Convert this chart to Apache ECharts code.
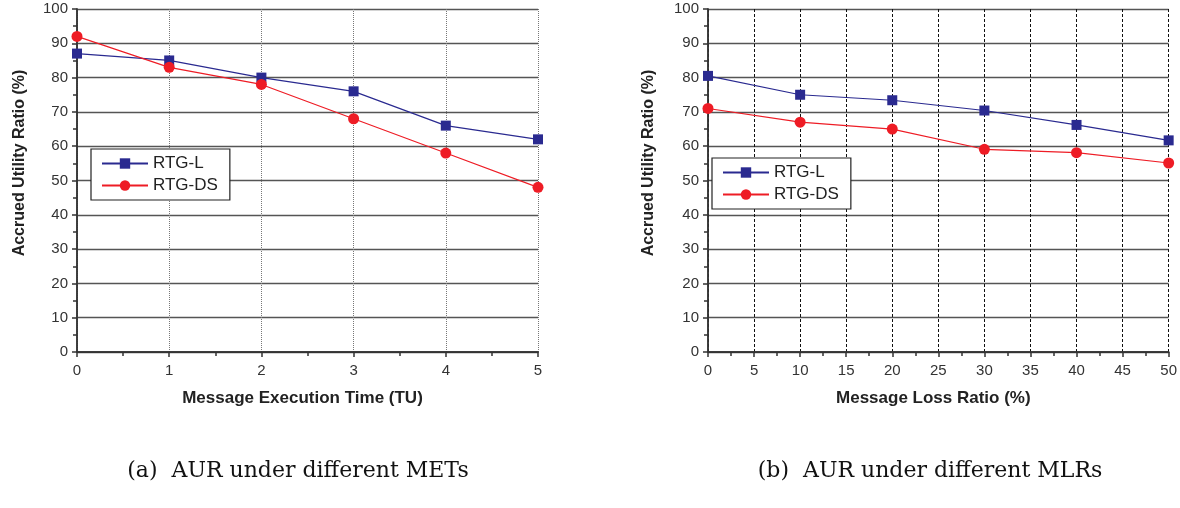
<!DOCTYPE html>
<html><head><meta charset="utf-8">
<script src="https://cdn.jsdelivr.net/npm/echarts@6/dist/echarts.min.js"></script>
<style>html,body{margin:0;padding:0;background:#fff}#c{width:1180px;height:508px}</style>
</head><body><div id="c"></div>
<script>
// Data
const metX = [0, 1, 2, 3, 4, 5];
const metRTGL = [87, 85, 80, 76, 66, 62];
const metRTGDS = [92, 83, 78, 68, 58, 48];
const mlrX = [0, 10, 20, 30, 40, 50];
const mlrRTGL = [80.5, 75, 73.4, 70.4, 66.2, 61.7];
const mlrRTGDS = [71, 67, 65, 59.1, 58.1, 55.1];
const seriesNames = ['RTG-L', 'RTG-DS'];
const xTitles = ['Message Execution Time (TU)', 'Message Loss Ratio (%)'];
const yTitle = 'Accrued Utility Ratio (%)';
const captions = ['(a)  AUR under different METs', '(b)  AUR under different MLRs'];

const pairs = (xs, ys) => xs.map((x, i) => [x, ys[i]]);
const BLUE = '#2a2a90', RED = '#ee1c25';
const FONT = 'Liberation Sans, Arial, sans-serif';
const lbl = {color: '#333', fontSize: 15, fontFamily: FONT};
const frameLine = {show: true, lineStyle: {color: '#333', width: 1.5}};

function xAxes(gi, max, interval, gridType, gridColor) {
  return [{
    type: 'value', gridIndex: gi, min: 0, max: max, interval: interval,
    position: 'bottom',
    axisLine: frameLine, axisTick: {show: true, inside: false, length: 5, lineStyle: {color: '#333', width: 1.5}},
    minorTick: {show: true, splitNumber: 2, length: 4, lineStyle: {color: '#333', width: 1.5}},
    axisLabel: Object.assign({margin: 11}, lbl),
    splitLine: {show: true, lineStyle: {color: gridColor, type: gridType, width: 1}},
    name: xTitles[gi], nameLocation: 'middle', nameGap: 38,
    nameTextStyle: {fontWeight: 'bold', fontSize: 17, color: '#222', fontFamily: FONT, padding: [0, 10, 0, 0]}
  }, {
    type: 'value', gridIndex: gi, min: 0, max: max, interval: interval,
    position: 'top',
    axisLine: frameLine, axisTick: {show: true, inside: true, length: 5, lineStyle: {color: '#333', width: 1.5}},
    minorTick: {show: true, splitNumber: 2, length: 4, lineStyle: {color: '#333', width: 1.5}},
    axisLabel: {show: false}, splitLine: {show: false}
  }];
}
function yAxes(gi) {
  return [{
    type: 'value', gridIndex: gi, min: 0, max: 100, interval: 10, position: 'left',
    axisLine: frameLine, axisTick: {show: true, inside: false, length: 5, lineStyle: {color: '#333', width: 1.5}},
    minorTick: {show: true, splitNumber: 2, length: 4, lineStyle: {color: '#333', width: 1.5}},
    axisLabel: Object.assign({margin: 9}, lbl),
    splitLine: {show: true, lineStyle: {color: '#555', width: 1.3}}
  }, {
    type: 'value', gridIndex: gi, min: 0, max: 100, interval: 10, position: 'right',
    axisLine: frameLine, axisTick: {show: true, inside: true, length: 5, lineStyle: {color: '#333', width: 1.5}},
    minorTick: {show: true, splitNumber: 2, length: 4, lineStyle: {color: '#333', width: 1.5}},
    axisLabel: {show: false}, splitLine: {show: false}
  }];
}
function mkSeries(name, data, xi, yi, color, symbol, size) {
  return {
    name: name, type: 'line', xAxisIndex: xi, yAxisIndex: yi, data: data,
    symbol: symbol, symbolSize: size, showAllSymbol: true,
    lineStyle: {color: color, width: 1.2}, itemStyle: {color: color}, z: 5
  };
}
function yTitleText(x, y) {
  return {
    type: 'text', x: x, y: y, rotation: Math.PI / 2,
    style: {text: yTitle, font: 'bold 16px ' + FONT, fill: '#222', align: 'center', verticalAlign: 'middle'}
  };
}
const legendBase = {
  orient: 'vertical', backgroundColor: '#fff', borderColor: '#222', borderWidth: 1.2,
  padding: [6, 12, 6, 10], itemGap: 5, itemWidth: 46, itemHeight: 13,
  textStyle: {fontSize: 17, color: '#222', fontFamily: FONT},
  data: seriesNames
};
const capStyle = {fontFamily: 'DejaVu Serif, serif', fontWeight: 'normal', fontSize: 22, color: '#111'};
const chart = echarts.init(document.getElementById('c'));
chart.setOption({
  animation: false,
  backgroundColor: '#fff',
  title: [
    {text: captions[0], left: 293, top: 455, textAlign: 'center', textStyle: capStyle},
    {text: captions[1], left: 925, top: 455, textAlign: 'center', textStyle: capStyle}
  ],
  graphic: [yTitleText(20, 163), yTitleText(649, 163)],
  grid: [
    {left: 77, right: 642, top: 9, bottom: 156},
    {left: 708, right: 10, top: 9, bottom: 156}
  ],
  xAxis: [].concat(xAxes(0, 5, 1, 'dotted', '#777'), xAxes(1, 50, 5, [3, 2], '#111')),
  yAxis: [].concat(yAxes(0), yAxes(1)),
  legend: [
    Object.assign({}, legendBase, {left: 91, top: 149}),
    Object.assign({}, legendBase, {left: 712, top: 158})
  ],
  series: [
    mkSeries(seriesNames[0], pairs(metX, metRTGL), 0, 0, BLUE, 'rect', 10),
    mkSeries(seriesNames[1], pairs(metX, metRTGDS), 0, 0, RED, 'circle', 11),
    mkSeries(seriesNames[0], pairs(mlrX, mlrRTGL), 2, 2, BLUE, 'rect', 10),
    mkSeries(seriesNames[1], pairs(mlrX, mlrRTGDS), 2, 2, RED, 'circle', 11)
  ]
});
</script></body></html>
